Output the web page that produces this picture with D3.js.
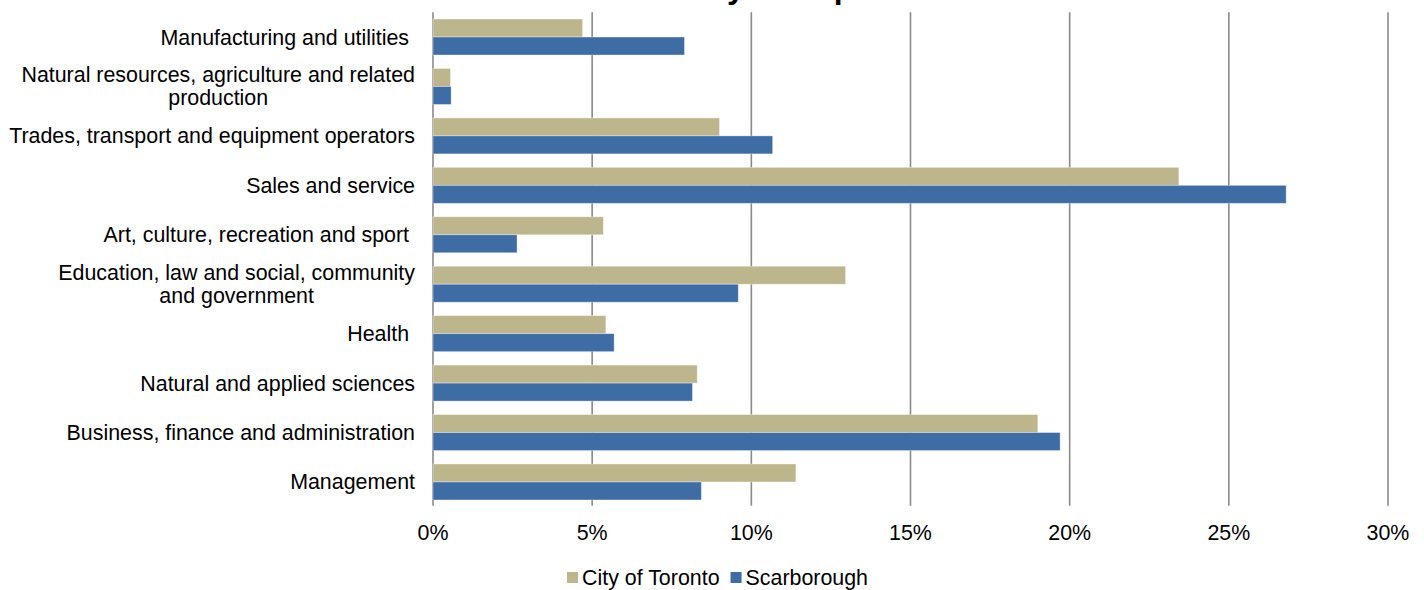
<!DOCTYPE html>
<html>
    <head>
        <meta charset="utf-8">
        <title>Labour Force by Occupation</title>
        <script type="text/javascript" src="https://d3js.org/d3.v7.min.js"></script>
        <style>
            body { margin: 0; background: #ffffff; }
            svg { display: block; font-family: "Liberation Sans", Arial, sans-serif; }
            .grid line { stroke: #8a8a8a; stroke-width: 1.6; }
            .cat-label, .tick-label, .legend-label { font-size: 21.4px; fill: #000; white-space: pre; }
            .title { font-size: 32px; font-weight: bold; fill: #000; }
        </style>
    </head>
    <body>
        <div id="container"></div>
        <script>
        //-----------------------------DATA-----------------------------//
        const categories = [
            "Manufacturing and utilities ",
            "Natural resources, agriculture and related\nproduction",
            "Trades, transport and equipment operators",
            "Sales and service",
            "Art, culture, recreation and sport ",
            "Education, law and social, community\nand government",
            "Health ",
            "Natural and applied sciences",
            "Business, finance and administration",
            "Management"
        ];
        const seriesNames = ["City of Toronto", "Scarborough"];
        const toronto =     [4.7, 0.55, 9.0, 23.43, 5.35, 12.96, 5.43, 8.3, 19.0, 11.4];
        const scarborough = [7.9, 0.57, 10.67, 26.8, 2.64, 9.59, 5.69, 8.15, 19.7, 8.43];
        const xTicks = [0, 5, 10, 15, 20, 25, 30];
        const colors = ["#bdb68c", "#3e6ca5"];

        //-----------------------------SVG------------------------------//
        const width = 1424;
        const height = 590;
        const svg = d3.select("div#container").append("svg")
            .attr("width", width)
            .attr("height", height);

        //----------------------------SCALES----------------------------//
        const xScale = d3.scaleLinear().domain([0, 30]).range([433, 1388]);
        const yScale = d3.scaleBand().domain(categories).range([12.3, 506.7]).padding(0);
        const barH = yScale.bandwidth() * 0.364;

        //-----------------------------TITLE----------------------------//
        // the title sits mostly above the page edge, as in the original
        svg.append("text")
            .attr("class", "title")
            .attr("x", 712)
            .attr("y", -2)
            .attr("text-anchor", "middle")
            .text("Labour Force by Occupation");

        //-----------------------------GRID-----------------------------//
        const grid = svg.append("g").attr("class", "grid");
        grid.selectAll("line")
            .data(xTicks)
            .enter()
            .append("line")
            .attr("x1", d => xScale(d))
            .attr("x2", d => xScale(d))
            .attr("y1", yScale.range()[0])
            .attr("y2", yScale.range()[1] - 1);

        //-----------------------------BARS-----------------------------//
        const rows = categories.map((c, i) => ({cat: c, values: [toronto[i], scarborough[i]]}));
        const groups = svg.selectAll(".row")
            .data(rows)
            .enter()
            .append("g")
            .attr("class", "row");

        groups.selectAll("rect")
            .data(d => d.values.map((v, j) => ({cat: d.cat, v: v, j: j})))
            .enter()
            .append("rect")
            .attr("x", xScale(0))
            .attr("y", d => yScale(d.cat) + yScale.bandwidth() / 2 - barH + d.j * barH)
            .attr("width", d => xScale(d.v) - xScale(0))
            .attr("height", barH)
            .attr("fill", d => colors[d.j])
            .attr("stroke", "#ffffff")
            .attr("stroke-opacity", 0.45)
            .attr("stroke-width", 0.8);

        //---------------------------LABELS-----------------------------//
        const labelRight = 415;
        const lineH = 23;
        categories.forEach(function(c) {
            const lines = c.split("\n");
            const cy = yScale(c) + yScale.bandwidth() / 2;
            const g = svg.append("g");
            const texts = lines.map(function(l, k) {
                return g.append("text")
                    .attr("class", "cat-label")
                    .attr("y", cy + (k - (lines.length - 1) / 2) * lineH)
                    .attr("dy", "0.35em")
                    .text(l);
            });
            if (lines.length === 1) {
                texts[0].attr("x", labelRight).attr("text-anchor", "end");
            } else {
                const maxW = d3.max(texts, t => t.node().getComputedTextLength());
                texts.forEach(t => t.attr("x", labelRight - maxW / 2).attr("text-anchor", "middle"));
            }
        });

        //----------------------------X AXIS----------------------------//
        svg.selectAll(".tick-label")
            .data(xTicks)
            .enter()
            .append("text")
            .attr("class", "tick-label")
            .attr("x", d => xScale(d))
            .attr("y", 540)
            .attr("text-anchor", "middle")
            .text(d => d + "%");

        //----------------------------LEGEND----------------------------//
        const legend = svg.append("g");
        let lx = 567;
        seriesNames.forEach(function(name, i) {
            legend.append("rect")
                .attr("x", lx)
                .attr("y", 572)
                .attr("width", 11)
                .attr("height", 11)
                .attr("fill", colors[i]);
            const t = legend.append("text")
                .attr("class", "legend-label")
                .attr("x", lx + 15)
                .attr("y", 585)
                .text(name);
            lx = lx + 15 + t.node().getComputedTextLength() + 11;
        });
        </script>
    </body>
</html>
